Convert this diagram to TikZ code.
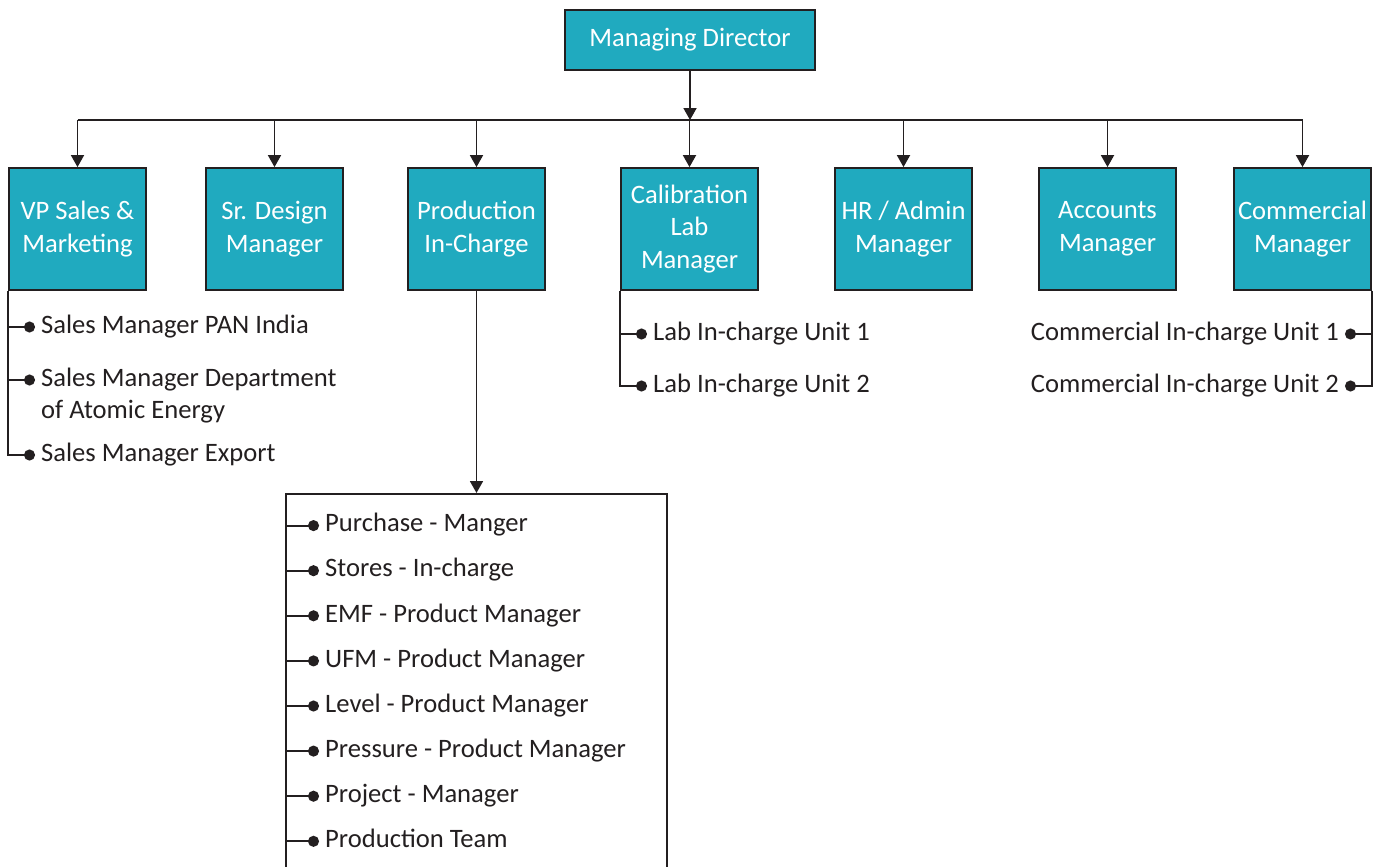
\documentclass[tikz,border=0pt]{standalone}
\usepackage{fontspec}
\setmainfont{Carlito}
\usetikzlibrary{arrows.meta}
\definecolor{boxteal}{RGB}{32,170,191}
\definecolor{ink}{RGB}{35,31,32}

\begin{document}
\begin{tikzpicture}[x=1pt,y=-1pt]
    \tikzstyle{every node}=[font=\fontsize{26.6}{32.5}\selectfont, text=ink]
    \tikzstyle{head}=[draw=ink, line width=1.8pt, fill=boxteal, text=white, align=center, minimum width=137pt, minimum height=122pt, inner sep=2pt]
    \tikzstyle{item}=[inner ysep=0pt, inner xsep=6pt, text height=17.4pt, text depth=5pt]
    \tikzstyle{link}=[draw=ink, line width=1.8pt]
    \tikzstyle{arr}=[link, -{Triangle[length=12pt,width=13pt]}]
    \tikzstyle{bullet}=[link, -{Circle[length=11pt]}]
    \useasboundingbox (0,0) rectangle (1384,867);
    \clip (0,0) rectangle (1384,867);
    % top level
    \node[head, minimum width=250pt, minimum height=60pt] (md) at (690,40) {Managing Director};
    \node[head] (vp) at (77.5,229) {VP Sales \&\\Marketing};
    \node[head] (sd) at (274.5,229) {Sr. Design\\Manager};
    \node[head] (pi) at (476.5,229) {Production\\In-Charge};
    \node[head] (cl) at (689.5,229) {Calibration\\Lab\\Manager};
    \node[head] (hr) at (903.5,229) {HR / Admin\\Manager};
    \node[head] (ac) at (1107.5,229) {Accounts\\Manager};
    \node[head] (cm) at (1302.5,229) {Commercial\\Manager};
    \coordinate (bus) at (690,120);
    \draw[arr] (md) -- (bus);
    \draw[link] (bus -| vp) -- (bus -| cm);
    \foreach \n in {vp,sd,pi,cl,hr,ac,cm} \draw[arr] (bus -| \n) -- (\n.north);
    % sales
    \node[item, anchor=west] (s1) at (35,327) {Sales Manager PAN India};
    \node[item, anchor=west] (s2) at (35,380) {Sales Manager Department};
    \node[item, anchor=west] (s2b) at (35,412.5) {of Atomic Energy};
    \node[item, anchor=west] (s3) at (35,455) {Sales Manager Export};
    \foreach \s in {s1,s2,s3} \draw[bullet] (vp.south west) |- (\s.west);
    % production
    \node[draw=ink, line width=1.8pt, minimum width=381pt, minimum height=420pt, anchor=north] (team) at (476.5,493) {};
    \draw[arr] (pi) -- (team);
    \foreach \t [count=\i] in {Purchase - Manger, Stores - In-charge, EMF - Product Manager, UFM - Product Manager, Level - Product Manager, Pressure - Product Manager, Project - Manager, Production Team} {
        \node[item, anchor=west] (p\i) at (319,480.5+45.1*\i) {\t};
        \draw[bullet] (team.north west |- p\i) -- (p\i);
    }
    % calibration lab
    \node[item, anchor=west] (l1) at (647,334) {Lab In-charge Unit 1};
    \node[item, anchor=west] (l2) at (647,386) {Lab In-charge Unit 2};
    \draw[bullet] (cl.south west) |- (l1.west);
    \draw[bullet] (cl.south west) |- (l2.west);
    % commercial
    \node[item, anchor=east] (c1) at (1345,334) {Commercial In-charge Unit 1};
    \node[item, anchor=east] (c2) at (1345,386) {Commercial In-charge Unit 2};
    \draw[bullet] (cm.south east) |- (c1.east);
    \draw[bullet] (cm.south east) |- (c2.east);
\end{tikzpicture}
\end{document}
